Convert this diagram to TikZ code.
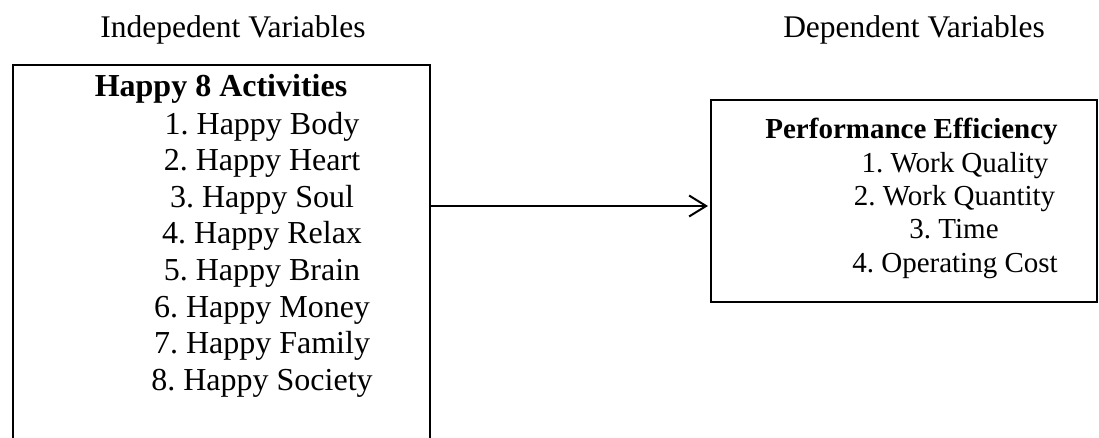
\documentclass[tikz,border=0pt]{standalone}
\usepackage{fontspec}
\setmainfont{Liberation Serif}
\usetikzlibrary{arrows.meta}
\frenchspacing

\tikzset{
  box/.style={draw, line width=2pt, inner sep=0pt, outer sep=0pt},
  heading/.style={anchor=base, inner sep=0pt, font=\fontsize{31.5}{36}\selectfont},
  leftitem/.style={anchor=base, inner sep=0pt, font=\fontsize{32}{36.6}\selectfont},
  lefttitle/.style={leftitem, font=\fontsize{32}{36.6}\selectfont\bfseries},
  rightitem/.style={anchor=base, inner sep=0pt, font=\fontsize{29}{33.3}\selectfont},
  righttitle/.style={rightitem, font=\fontsize{29}{33.3}\selectfont\bfseries},
  link/.style={line width=2pt, -{Straight Barb[length=17pt,width=21pt,line width=2pt]}, shorten >=3pt}
}

\begin{document}
\begin{tikzpicture}[x=1pt, y=-1pt]
  \useasboundingbox (0,0) rectangle (1099,437);
  \clip (0,0) rectangle (1099,437);

  % column headings
  \node[heading] (ivhead) at (233,37) {Indepedent Variables};
  \node[heading] (dvhead) at (914,37) {Dependent Variables};

  % independent variable box (runs past the lower edge)
  \node[box, anchor=north, minimum width=417pt, minimum height=420pt] (iv) at (221.5,65) {};
  \node[lefttitle] (ivtitle) at (221,96) {Happy 8 Activities};
  \foreach \i/\t in {1/Happy Body, 2/Happy Heart, 3/Happy Soul, 4/Happy Relax,
                     5/Happy Brain, 6/Happy Money, 7/Happy Family, 8/Happy Society} {
    \node[leftitem] (iv\i) at (262, {134 + 36.6*(\i-1)}) {\frenchspacing\i. \t};
  }

  % dependent variable box
  \node[box, minimum width=386pt, minimum height=202pt] (dv) at (904,201) {};
  \node[righttitle] (dvtitle) at (911.5,138) {Performance Efficiency};
  \node[rightitem] (dv1) at (955,172) {\frenchspacing 1. Work Quality};
  \node[rightitem] (dv2) at (954.5,205.3) {\frenchspacing 2. Work Quantity};
  \node[rightitem] (dv3) at (954,238.6) {\frenchspacing 3. Time};
  \node[rightitem] (dv4) at (955,272) {\frenchspacing 4. Operating Cost};

  % influence arrow
  \coordinate (target) at ([yshift=-5pt]dv.west);
  \draw[link] (iv.east |- target) -- (target);
\end{tikzpicture}
\end{document}
